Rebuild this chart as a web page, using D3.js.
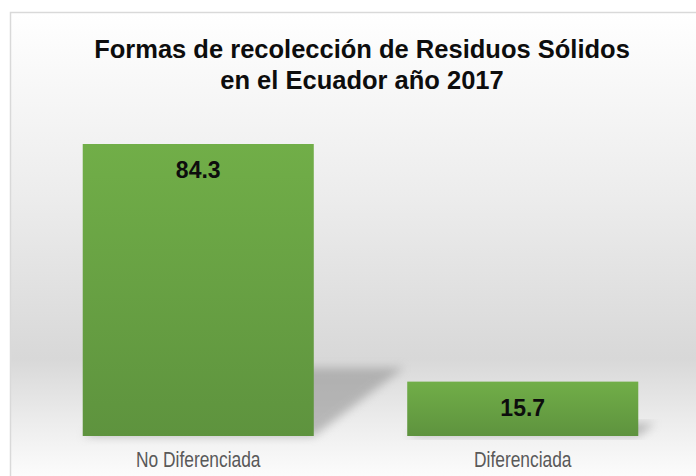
<!DOCTYPE html>
<html>
<head>
<meta charset="utf-8">
<script src="https://cdn.jsdelivr.net/npm/d3@7"></script>
<style>
  html, body { margin: 0; padding: 0; background: #fff; }
  svg { display: block; }
</style>
</head>
<body>
<div id="chart"></div>
<script>
// data
var categories = ["No Diferenciada", "Diferenciada"];
var values = [84.3, 15.7];
var titleLines = ["Formas de recolección de Residuos Sólidos", "en el Ecuador año 2017"];

var width = 696, height = 476;

var svg = d3.select("#chart").append("svg")
    .attr("width", width)
    .attr("height", height);

var defs = svg.append("defs");

// chart background gradient (white -> gray -> white)
var bg = defs.append("linearGradient")
    .attr("id", "bgGrad")
    .attr("gradientUnits", "userSpaceOnUse")
    .attr("x1", 0).attr("y1", 12)
    .attr("x2", 0).attr("y2", 480);
bg.append("stop").attr("offset", "0").attr("stop-color", "#ffffff");
bg.append("stop").attr("offset", "0.4").attr("stop-color", "#ececec");
bg.append("stop").attr("offset", "0.74").attr("stop-color", "#d8d8d8");
bg.append("stop").attr("offset", "0.88").attr("stop-color", "#ededed");
bg.append("stop").attr("offset", "1").attr("stop-color", "#fdfdfd");

// bar gradient
var barGrad = defs.append("linearGradient")
    .attr("id", "barGrad")
    .attr("x1", 0).attr("y1", 0)
    .attr("x2", 0).attr("y2", 1);
barGrad.append("stop").attr("offset", "0").attr("stop-color", "#71ae48");
barGrad.append("stop").attr("offset", "1").attr("stop-color", "#5e933e");

var blur = defs.append("filter")
    .attr("id", "shadowBlur")
    .attr("x", "-30%").attr("y", "-30%")
    .attr("width", "160%").attr("height", "160%");
blur.append("feGaussianBlur").attr("stdDeviation", 5);

// chart area
svg.append("rect")
    .attr("x", 10.5).attr("y", 12.5)
    .attr("width", 720).attr("height", 480)
    .style("fill", "url(#bgGrad)")
    .style("stroke", "#d9d9d9")
    .style("stroke-width", 1.5);

// title
var title = svg.append("text")
    .attr("text-anchor", "middle")
    .style("font-family", "'Liberation Sans', Arial, sans-serif")
    .style("font-weight", "bold")
    .style("font-size", "25.5px")
    .style("fill", "#0d0d0d");
title.selectAll("tspan")
    .data(titleLines)
    .enter().append("tspan")
    .attr("x", 362)
    .attr("y", function(d, i) { return 58 + i * 31; })
    .text(function(d) { return d; });

// scales
var x = d3.scaleBand()
    .domain(categories)
    .range([36, 685])
    .paddingInner(0.288)
    .paddingOuter(0.144);

var y = d3.scaleLinear()
    .domain([0, 84.3])
    .range([436, 144]);

var data = categories.map(function(c, i) { return { cat: c, val: values[i] }; });

// perspective shadows
svg.append("g").selectAll("polygon")
    .data(data)
    .enter().append("polygon")
    .attr("points", function(d) {
        var x0 = x(d.cat), x1 = x0 + x.bandwidth();
        var base = y(0), h = y(0) - y(d.val);
        var dx = 0.31 * h, dy = 0.235 * h;
        return [[x0, base], [x1, base], [x1 + dx, base - dy], [x0 + dx, base - dy]]
            .map(function(p) { return p.join(","); }).join(" ");
    })
    .style("fill", "#8c8c8c")
    .style("opacity", 0.55)
    .attr("filter", "url(#shadowBlur)");

// bars
svg.append("g").selectAll("rect")
    .data(data)
    .enter().append("rect")
    .attr("x", function(d) { return x(d.cat); })
    .attr("y", function(d) { return y(d.val); })
    .attr("width", x.bandwidth())
    .attr("height", function(d) { return y(0) - y(d.val); })
    .style("fill", "url(#barGrad)");

// value labels
svg.append("g").selectAll("text")
    .data(data)
    .enter().append("text")
    .attr("x", function(d) { return x(d.cat) + x.bandwidth() / 2; })
    .attr("y", function(d) { return y(d.val) + 34; })
    .attr("text-anchor", "middle")
    .style("font-family", "'Liberation Sans', Arial, sans-serif")
    .style("font-weight", "bold")
    .style("font-size", "23px")
    .style("fill", "#0d0d0d")
    .text(function(d) { return d.val.toFixed(1); });

// category axis labels (condensed look)
var xAxis = d3.axisBottom(x).tickSize(0).tickPadding(0);
var axisG = svg.append("g")
    .attr("transform", "translate(0," + y(0) + ")")
    .call(xAxis);
axisG.select(".domain").remove();
axisG.selectAll(".tick text")
    .attr("y", 31)
    .attr("dy", 0)
    .attr("transform", "scale(0.79,1)")
    .style("font-family", "'Liberation Sans', Arial, sans-serif")
    .style("font-size", "22px")
    .style("fill", "#595959");
</script>
</body>
</html>
